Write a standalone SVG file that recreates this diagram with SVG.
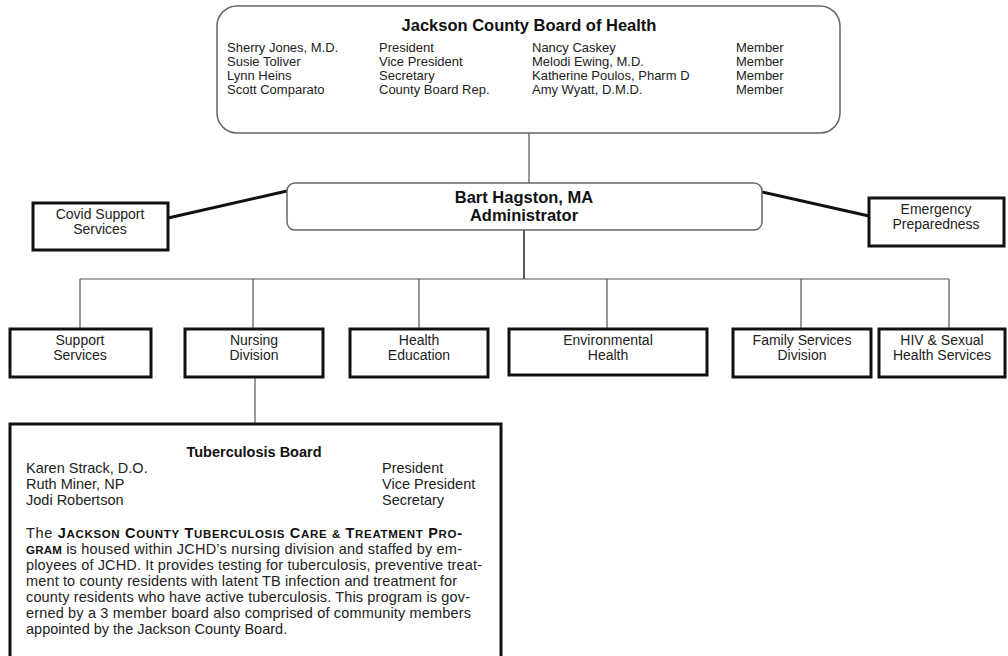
<svg xmlns="http://www.w3.org/2000/svg" width="1008" height="656" viewBox="0 0 1008 656">
<style>
text{font-family:"Liberation Sans",Arial,sans-serif;fill:#222}
.b{font-weight:bold;fill:#111}
.t13{font-size:13px}
.lbl{font-size:14px;text-anchor:middle}
.tb{font-size:14.5px}
.sc{font-size:11.5px}
.box{fill:#fff;stroke:#111;stroke-width:3}
.rbox{fill:#fff;stroke:#666;stroke-width:1.5}
.thin{stroke:#555;stroke-width:1.2;fill:none}
.thick{stroke:#111;stroke-width:3;fill:none}
</style>
<rect width="1008" height="656" fill="#fff"/>
<g id="connectors">
<line class="thin" x1="529" y1="133" x2="529" y2="183"/>
<line class="thin" x1="524" y1="230" x2="524" y2="279" style="stroke:#222;stroke-width:1.5"/>
<line class="thin" x1="80" y1="279" x2="949" y2="279"/>
<line class="thin" x1="80" y1="279" x2="80" y2="329"/>
<line class="thin" x1="253" y1="279" x2="253" y2="329"/>
<line class="thin" x1="419" y1="279" x2="419" y2="329"/>
<line class="thin" x1="607" y1="279" x2="607" y2="329"/>
<line class="thin" x1="801" y1="279" x2="801" y2="329"/>
<line class="thin" x1="949" y1="279" x2="949" y2="329"/>
<line class="thin" x1="255" y1="377" x2="255" y2="424"/>
<line class="thick" x1="168" y1="218" x2="287" y2="191"/>
<line class="thick" x1="762" y1="192" x2="869" y2="216"/>
</g>
<g id="board">
<rect class="rbox" x="217" y="6" width="623" height="127" rx="20"/>
<text class="b" x="529" y="31" font-size="16.5" text-anchor="middle">Jackson County Board of Health</text>
<g class="t13">
<text x="227" y="52">Sherry Jones, M.D.</text>
<text x="227" y="66">Susie Toliver</text>
<text x="227" y="80">Lynn Heins</text>
<text x="227" y="94">Scott Comparato</text>
<text x="379" y="52">President</text>
<text x="379" y="66">Vice President</text>
<text x="379" y="80">Secretary</text>
<text x="379" y="94">County Board Rep.</text>
<text x="532" y="52">Nancy Caskey</text>
<text x="532" y="66">Melodi Ewing, M.D.</text>
<text x="532" y="80">Katherine Poulos, Pharm D</text>
<text x="532" y="94">Amy Wyatt, D.M.D.</text>
<text x="736" y="52">Member</text>
<text x="736" y="66">Member</text>
<text x="736" y="80">Member</text>
<text x="736" y="94">Member</text>
</g>
</g>
<g id="admin">
<rect class="rbox" x="287" y="183" width="475" height="47" rx="8"/>
<text class="b" x="524" y="203" font-size="16.5" text-anchor="middle">Bart Hagston, MA</text>
<text class="b" x="524" y="221" font-size="16.5" text-anchor="middle">Administrator</text>
</g>
<g id="covid">
<rect class="box" x="33" y="203" width="135" height="47"/>
<text class="lbl" x="100" y="219">Covid Support</text>
<text class="lbl" x="100" y="234">Services</text>
</g>
<g id="emergency">
<rect class="box" x="869" y="198" width="135" height="48"/>
<text class="lbl" x="936" y="214">Emergency</text>
<text class="lbl" x="936" y="229">Preparedness</text>
</g>
<g id="support">
<rect class="box" x="10" y="329" width="141" height="48"/>
<text class="lbl" x="80" y="345">Support</text>
<text class="lbl" x="80" y="360">Services</text>
</g>
<g id="nursing">
<rect class="box" x="185" y="329" width="138" height="48"/>
<text class="lbl" x="254" y="345">Nursing</text>
<text class="lbl" x="254" y="360">Division</text>
</g>
<g id="healthed">
<rect class="box" x="350" y="329" width="138" height="48"/>
<text class="lbl" x="419" y="345">Health</text>
<text class="lbl" x="419" y="360">Education</text>
</g>
<g id="environmental">
<rect class="box" x="509" y="329" width="198" height="46"/>
<text class="lbl" x="608" y="345">Environmental</text>
<text class="lbl" x="608" y="360">Health</text>
</g>
<g id="family">
<rect class="box" x="733" y="329" width="138" height="48"/>
<text class="lbl" x="802" y="345">Family Services</text>
<text class="lbl" x="802" y="360">Division</text>
</g>
<g id="hiv">
<rect class="box" x="879" y="329" width="126" height="48"/>
<text class="lbl" x="942" y="345">HIV &amp; Sexual</text>
<text class="lbl" x="942" y="360">Health Services</text>
</g>
<g id="tb">
<rect class="box" x="10" y="424" width="491" height="240"/>
<text class="b tb" x="254" y="457" text-anchor="middle">Tuberculosis Board</text>
<g class="tb">
<text x="26" y="473">Karen Strack, D.O.</text>
<text x="26" y="489">Ruth Miner, NP</text>
<text x="26" y="505">Jodi Robertson</text>
<text x="382" y="473">President</text>
<text x="382" y="489">Vice President</text>
<text x="382" y="505">Secretary</text>
<text x="26" y="538" textLength="436" lengthAdjust="spacing">The <tspan class="b">J<tspan class="sc">ACKSON</tspan> C<tspan class="sc">OUNTY</tspan> T<tspan class="sc">UBERCULOSIS</tspan> C<tspan class="sc">ARE</tspan> <tspan class="sc">&amp;</tspan> T<tspan class="sc">REATMENT</tspan> P<tspan class="sc">RO</tspan>-</tspan></text>
<text x="26" y="554" textLength="436" lengthAdjust="spacing"><tspan class="b sc">GRAM</tspan> is housed within JCHD’s nursing division and staffed by em-</text>
<text x="26" y="570" textLength="456" lengthAdjust="spacing">ployees of JCHD. It provides testing for tuberculosis, preventive treat-</text>
<text x="26" y="586" textLength="431" lengthAdjust="spacing">ment to county residents with latent TB infection and treatment for</text>
<text x="26" y="602" textLength="444" lengthAdjust="spacing">county residents who have active tuberculosis. This program is gov-</text>
<text x="26" y="618" textLength="445" lengthAdjust="spacing">erned by a 3 member board also comprised of community members</text>
<text x="26" y="634">appointed by the Jackson County Board.</text>
</g>
</g>
</svg>
